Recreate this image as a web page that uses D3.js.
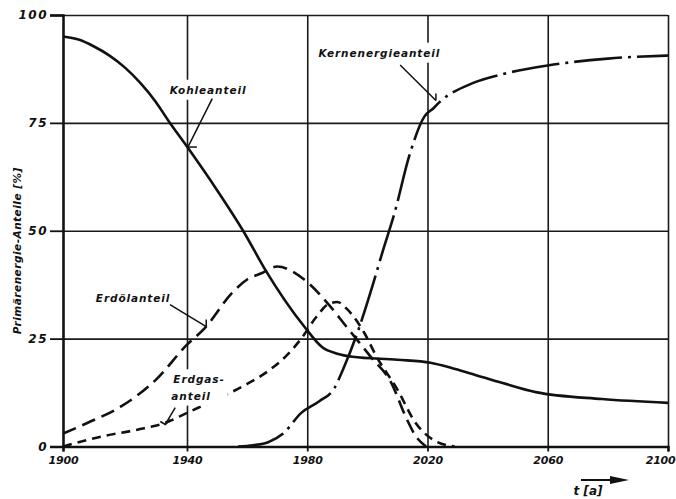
<!DOCTYPE html>
<html>
<head>
<meta charset="utf-8">
<script src="https://cdn.jsdelivr.net/npm/d3@7"></script>
<style>
  html, body { margin: 0; padding: 0; background: #fff; }
  svg text { font-family: "DejaVu Sans", sans-serif; fill: #111; }
</style>
</head>
<body>
<div id="chart"></div>
<script>
// values
const coalYears = [1900, 1905, 1910, 1915, 1920, 1925, 1930, 1934, 1940, 1950, 1959, 1966, 1979, 1985, 1990, 1995, 2010, 2021, 2028, 2034, 2045, 2056, 2078, 2100];
const coalShare = [95, 94.3, 92.7, 90.6, 87.8, 84.2, 79.8, 75.5, 69.5, 59.4, 49.6, 41, 27.8, 23, 21.5, 20.8, 20.1, 19.4, 18.2, 17, 14.7, 12.6, 11, 10.1];

const oilYears = [1900, 1908, 1919, 1930, 1940, 1946, 1955, 1960, 1965, 1970, 1979, 1987, 1993, 2001, 2008, 2013, 2016, 2019.5];
const oilShare = [3, 5.5, 9.4, 15.5, 23.6, 27.5, 35.6, 38.7, 40.2, 41.7, 38.7, 33, 27.8, 20.9, 14.7, 6.5, 2.5, 0];

const gasYears = [1900, 1913, 1924, 1933, 1940, 1951, 1960, 1967, 1973, 1978, 1983, 1987, 1990, 1993, 1999, 2003, 2010, 2016, 2022, 2029];
const gasShare = [0, 2.4, 3.9, 5.5, 7.8, 11.3, 14.5, 17.5, 21, 25, 30, 33, 33.5, 32, 26.3, 20.9, 13.2, 5.5, 1.5, 0];

const nucYears = [1957, 1962, 1967, 1972, 1978, 1984, 1989, 1992, 1997, 2002, 2005, 2009, 2014, 2019, 2022, 2024, 2035, 2045, 2060, 2080, 2100];
const nucShare = [0, 0.3, 1, 3, 7.8, 10.5, 13.5, 18, 27, 37.9, 45, 54, 67.5, 76.5, 78.4, 79.8, 84.2, 86.3, 88.3, 89.9, 90.6];

const xTicks = [1900, 1940, 1980, 2020, 2060, 2100];
const yTicks = [0, 25, 50, 75, 100];

const yTitle = "Primärenergie-Anteile [%]";
const xTitle = "t [a]";

const W = 676, H = 499;

const svg = d3.select("#chart").append("svg")
    .attr("width", W)
    .attr("height", H);

// the paper grid is slightly uneven, first field is a bit wider
const x = d3.scaleLinear().domain([1900, 1940, 2100]).range([63, 187, 668]);
const y = d3.scaleLinear().domain([0, 100]).range([446.5, 15]);

const plotW = x(2100) - x(1900);
const plotH = y(0) - y(100);

// grid
svg.append("g")
    .attr("transform", `translate(0,${y(0)})`)
    .call(d3.axisBottom(x).tickValues(xTicks).tickSize(-plotH).tickFormat(""))
    .call(g => g.select(".domain").remove())
    .call(g => g.selectAll("line").attr("stroke", "#1a1a1a").attr("stroke-width", 1.6));

svg.append("g")
    .attr("transform", `translate(${x(1900)},0)`)
    .call(d3.axisLeft(y).tickValues(yTicks).tickSize(-plotW).tickFormat(""))
    .call(g => g.select(".domain").remove())
    .call(g => g.selectAll("line").attr("stroke", "#1a1a1a").attr("stroke-width", 1.6));

// axes with labels
svg.append("g")
    .attr("transform", `translate(${x(1900)},0)`)
    .call(d3.axisLeft(y).tickValues(yTicks).tickSize(13).tickPadding(2))
    .call(g => g.select(".domain").attr("stroke", "#111").attr("stroke-width", 2.4))
    .call(g => g.selectAll("line").attr("stroke", "#111").attr("stroke-width", 1.8))
    .call(g => g.selectAll("text")
        .attr("font-size", 12).attr("font-style", "italic").attr("font-weight", "bold")
        .attr("letter-spacing", 1.5)
        .style("font-family", "DejaVu Sans"));

svg.append("g")
    .attr("transform", `translate(0,${y(0)})`)
    .call(d3.axisBottom(x).tickValues(xTicks).tickSize(5).tickPadding(5).tickFormat(d3.format("d")))
    .call(g => g.select(".domain").attr("stroke", "#111").attr("stroke-width", 2.4))
    .call(g => g.selectAll("line").attr("stroke", "#111").attr("stroke-width", 1.8))
    .call(g => g.selectAll("text")
        .attr("font-size", 11).attr("font-style", "italic").attr("font-weight", "bold")
        .attr("letter-spacing", -0.2)
        .style("font-family", "DejaVu Sans"))
    // last label sits at the page edge, keep it inside
    .call(g => g.selectAll(".tick").filter(d => d === 2100).select("text")
        .attr("text-anchor", "end").attr("x", 7));

// curves
const line = d3.line()
    .x(d => x(d[0]))
    .y(d => y(d[1]))
    .curve(d3.curveMonotoneX);

const series = [
  {years: coalYears, vals: coalShare, dash: null},
  {years: oilYears, vals: oilShare, dash: "14,7"},
  {years: gasYears, vals: gasShare, dash: "9,6"},
  {years: nucYears, vals: nucShare, dash: "48,6,3,6"},
];

svg.append("g").selectAll("path")
  .data(series)
  .join("path")
    .attr("d", s => line(d3.zip(s.years, s.vals)))
    .attr("fill", "none")
    .attr("stroke", "#111")
    .attr("stroke-width", 2.6)
    .attr("stroke-linecap", "butt")
    .attr("stroke-dasharray", s => s.dash);

// annotations: text lines, position (year, share), leader from -> to
const notes = [
  {lines: ["Kohleanteil"], at: [1947, 82.6], from: [1948.4, 80.6], to: [1940.3, 69.4], tick: "h"},
  {lines: ["Kernenergieanteil"], at: [2004, 91.2], from: [2010.9, 88.4], to: [2022.8, 80.2], tick: "v"},
  {lines: ["Erdölanteil"], at: [1922.6, 34.3], from: [1934.5, 32.9], to: [1946.4, 27.8], tick: "v"},
  {lines: ["Erdgas-", "anteil"], at: [1944, 15.5], from: [1936.2, 9], to: [1933, 5.1], tick: "a"},
];

const ann = svg.append("g");
notes.forEach(n => {
  const g = ann.append("g");
  const bg = g.append("rect").attr("fill", "#fff");
  const t = g.append("text")
      .attr("x", x(n.at[0]))
      .attr("y", y(n.at[1]))
      .attr("text-anchor", "middle")
      .attr("font-size", 10.5)
      .attr("font-style", "italic")
      .attr("font-weight", "bold")
      .attr("letter-spacing", 0.9);
  n.lines.forEach((s, i) => {
    t.append("tspan")
      .attr("x", x(n.at[0]) - (i ? 8 : 0))
      .attr("dy", i ? "1.55em" : "0.35em")
      .text(s);
  });
  const bb = t.node().getBBox();
  bg.attr("x", bb.x - 3).attr("y", bb.y - 4)
    .attr("width", bb.width + 6).attr("height", bb.height + 8);

  const x1 = x(n.from[0]), y1 = y(n.from[1]);
  const x2 = x(n.to[0]), y2 = y(n.to[1]);
  g.append("line")
      .attr("x1", x1).attr("y1", y1).attr("x2", x2).attr("y2", y2)
      .attr("stroke", "#111").attr("stroke-width", 1.5);
  if (n.tick === "h") {
    g.append("line").attr("x1", x2).attr("x2", x2 + 9).attr("y1", y2).attr("y2", y2)
      .attr("stroke", "#111").attr("stroke-width", 1.5);
  } else if (n.tick === "v") {
    g.append("line").attr("x1", x2).attr("x2", x2).attr("y1", y2).attr("y2", y2 - 7)
      .attr("stroke", "#111").attr("stroke-width", 1.5);
  } else {
    g.append("path")
      .attr("d", `M${x2 - 5},${y2 - 3} L${x2},${y2} L${x2 + 5},${y2 - 5}`)
      .attr("fill", "none").attr("stroke", "#111").attr("stroke-width", 1.5);
  }
});

// axis titles
svg.append("text")
    .attr("transform", `translate(21,${(y(0) + y(100)) / 2 + 20}) rotate(-90)`)
    .attr("text-anchor", "middle")
    .attr("font-size", 10.5)
    .attr("font-style", "italic")
    .attr("font-weight", "bold")
    .attr("letter-spacing", 0.5)
    .text(yTitle);

svg.append("text")
    .attr("x", 588)
    .attr("y", 495)
    .attr("text-anchor", "middle")
    .attr("font-size", 12)
    .attr("font-style", "italic")
    .attr("font-weight", "bold")
    .text(xTitle);

// time arrow
svg.append("line")
    .attr("x1", 581).attr("x2", 612).attr("y1", 480).attr("y2", 480)
    .attr("stroke", "#111").attr("stroke-width", 2);
svg.append("path")
    .attr("d", "M610,476 L629,480 L610,484 Z")
    .attr("fill", "#111");
</script>
</body>
</html>
